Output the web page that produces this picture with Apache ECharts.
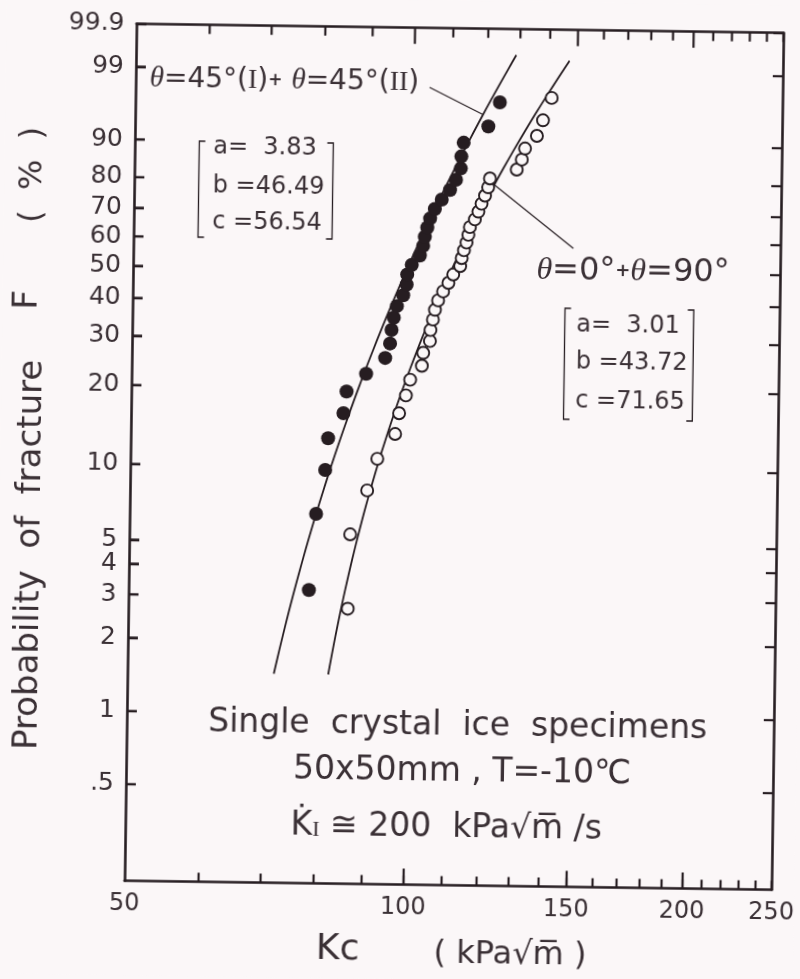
<!DOCTYPE html>
<html>
<head>
<meta charset="utf-8">
<script src="https://cdn.jsdelivr.net/npm/echarts@6/dist/echarts.min.js"></script>
<style>
  html, body { margin: 0; padding: 0; background: #fbf7f8; overflow: hidden; }
  #chart { width: 800px; height: 979px; transform: rotate(0.8deg); transform-origin: 50% 50%; }
</style>
</head>
<body>
<div id="chart"></div>
<script>
// Fracture toughness Kc of single-crystal ice on Weibull probability paper
// (log Kc horizontally, ln(-ln(1-F)) vertically).

// Axis ticks and labels
const kcRange = [50, 250];
const kcLabelValues = [50, 100, 150, 200, 250];
const kcMinorTicks = [60, 70, 80, 90, 100, 110, 120, 130, 140, 150, 160, 170, 180, 190, 200, 210, 220, 230, 240, 250];
const kcMajorTicks = [100, 150, 200];
const probRange = [0.2, 99.9];
const probTicks = [99.9, 99, 90, 80, 70, 60, 50, 40, 30, 20, 10, 5, 4, 3, 2, 1, 0.5];
const probTickLabels = ['99.9', '99', '90', '80', '70', '60', '50', '40', '30', '20', '10', '5', '4', '3', '2', '1', '.5'];

// θ=45°(I) + θ=45°(II) specimens: Kc (kPa√m) and probability of fracture (%)
const kcInclined = [78.3, 79.5, 81.2, 81.7, 84.8, 85.4, 89.6, 93.9, 95.0, 95.3,
                    95.8, 96.5, 98.0, 98.8, 98.9, 100.0, 102.0, 102.8, 103.2, 103.8,
                    104.5, 105.7, 107.5, 109.7, 111.3, 112.6, 112.7, 113.3, 120.4, 123.8];
const probInclined = [3.2, 6.5, 9.7, 12.9, 16.1, 19.4, 22.6, 25.8, 29.0, 32.3,
                      35.5, 38.7, 41.9, 45.2, 48.4, 51.6, 54.8, 58.1, 61.3, 64.5,
                      67.7, 71.0, 74.2, 77.4, 80.6, 83.9, 87.1, 90.3, 93.5, 96.8];

// θ=0° + θ=90° specimens
const kcAxial = [86.3, 86.6, 90.2, 92.4, 96.5, 97.4, 99.0, 100.0, 102.9, 103.2,
                 104.9, 105.0, 105.6, 106.1, 106.9, 108.2, 109.6, 110.9, 112.8, 113.2,
                 113.8, 114.5, 115.0, 115.4, 116.8, 117.8, 118.7, 119.7, 120.6, 121.1,
                 129.4, 131.0, 132.0, 135.9, 137.9, 140.8];
const probAxial = [2.7, 5.4, 8.1, 10.8, 13.5, 16.2, 18.9, 21.6, 24.3, 27.0,
                   29.7, 32.4, 35.1, 37.8, 40.5, 43.2, 45.9, 48.6, 51.4, 54.1,
                   56.8, 59.5, 62.2, 64.9, 67.6, 70.3, 73.0, 75.7, 78.4, 81.1,
                   83.8, 86.5, 89.2, 91.9, 94.6, 97.3];

// Three-parameter Weibull fits [a, b, c]: F = 1 - exp(-((Kc - c) / b)^a)
const weibullInclined = [3.83, 46.49, 56.54];
const weibullAxial = [3.01, 43.72, 71.65];
// probability span (%) over which each fitted line is drawn
const fitSpanInclined = [1.45, 99.55];
const fitSpanAxial = [1.45, 99.42];

const ink = '#261d21';
const textInk = '#3a3035';
const paper = '#fbf7f8';
const sans = '"DejaVu Sans", sans-serif';
const serif = '"Liberation Serif", "DejaVu Serif", serif';

// Weibull probability-paper ordinate
const wb = p => Math.log(-Math.log(1 - p / 100));
const lg = v => Math.log10(v);

function fitLine(params, span) {
  const [a, b, c] = params;
  const w0 = wb(span[0]), w1 = wb(span[1]);
  const pts = [];
  const n = 80;
  for (let k = 0; k <= n; k++) {
    const w = w0 + (w1 - w0) * k / n;
    pts.push([c + b * Math.exp(w / a), w]);
  }
  return pts;
}
function fitPoint(params, p) {
  const [a, b, c] = params;
  const w = wb(p);
  return [c + b * Math.exp(w / a), w];
}

const probTickW = probTicks.map(wb);
function probLabel(v) {
  let best = 0;
  for (let i = 1; i < probTickW.length; i++) {
    if (Math.abs(probTickW[i] - v) < Math.abs(probTickW[best] - v)) best = i;
  }
  return probTickLabels[best];
}

function axisLine(show) {
  return { show: show, onZero: false, lineStyle: { color: ink, width: 2.6 } };
}

function kcTickAxis(position, ticks, len, withLabels, withLine, withTicks) {
  return {
    type: 'value', position: position, gridIndex: 0, offset: 0,
    min: lg(kcRange[0]), max: lg(kcRange[1]),
    axisLine: axisLine(withLine),
    splitLine: { show: false },
    axisTick: { show: withTicks, inside: true, length: len, customValues: ticks.map(lg),
                lineStyle: { color: ink, width: 2.2 } },
    axisLabel: withLabels ? {
      show: true, customValues: kcLabelValues.map(lg), margin: 11,
      formatter: v => String(Math.round(Math.pow(10, v))),
      color: textInk, fontSize: 24, fontFamily: sans
    } : { show: false }
  };
}

function probAxis(position, withLabels) {
  return {
    type: 'value', position: position, gridIndex: 0, offset: 0,
    min: wb(probRange[0]), max: wb(probRange[1]),
    axisLine: axisLine(true),
    splitLine: { show: false },
    axisTick: { show: true, inside: true, length: 10, customValues: probTickW,
                lineStyle: { color: ink, width: 2.2 } },
    axisLabel: withLabels ? {
      show: true, customValues: probTickW, margin: 12, formatter: probLabel,
      color: textInk, fontSize: 25, fontFamily: sans
    } : { show: false }
  };
}

// inward tick marks along the upper and left edges of the frame
function topTick(params, api) {
  const v = api.value(0);
  const p = api.coord([v, api.value(1)]);
  const len = kcMajorTicks.indexOf(v) >= 0 ? 16 : 9;
  return { type: 'line', shape: { x1: p[0], y1: p[1], x2: p[0], y2: p[1] + len },
           style: { stroke: ink, lineWidth: 2.2 } };
}
function leftTick(params, api) {
  const p = api.coord([api.value(0), api.value(1)]);
  return { type: 'line', shape: { x1: p[0], y1: p[1], x2: p[0] + 10, y2: p[1] },
           style: { stroke: ink, lineWidth: 2.2 } };
}

const chart = echarts.init(document.getElementById('chart'));

chart.setOption({
  animation: false,
  backgroundColor: paper,
  grid: { left: 130, right: 23, top: 27.7, bottom: 94.5, outerBoundsMode: 'none' },
  xAxis: [
    { type: 'log', position: 'bottom', gridIndex: 0, min: kcRange[0], max: kcRange[1],
      axisLine: axisLine(true), axisTick: { show: false }, axisLabel: { show: false },
      splitLine: { show: false } },
    kcTickAxis('bottom', kcMinorTicks, 9, true, false, true),
    kcTickAxis('bottom', kcMajorTicks, 16, false, false, true),
    kcTickAxis('top', kcMinorTicks, 9, false, true, false)
  ],
  yAxis: [probAxis('left', true), probAxis('right', false)],
  series: [
    { type: 'line', name: 'fit θ=45°', xAxisIndex: 0, yAxisIndex: 0,
      data: fitLine(weibullInclined, fitSpanInclined), showSymbol: false, symbol: 'none',
      lineStyle: { color: ink, width: 1.8 }, z: 3, silent: true },
    { type: 'line', name: 'fit θ=0°,90°', xAxisIndex: 0, yAxisIndex: 0,
      data: fitLine(weibullAxial, fitSpanAxial), showSymbol: false, symbol: 'none',
      lineStyle: { color: ink, width: 1.8 }, z: 3, silent: true },
    { type: 'scatter', name: 'θ=45°(I)+θ=45°(II)', xAxisIndex: 0, yAxisIndex: 0,
      data: kcInclined.map((k, i) => [k, wb(probInclined[i])]),
      symbol: 'circle', symbolSize: 14, itemStyle: { color: ink, opacity: 1 }, z: 5, silent: true },
    { type: 'scatter', name: 'θ=0°+θ=90°', xAxisIndex: 0, yAxisIndex: 0,
      data: kcAxial.map((k, i) => [k, wb(probAxial[i])]),
      symbol: 'circle', symbolSize: 12,
      itemStyle: { color: paper, borderColor: ink, borderWidth: 1.9, opacity: 1 }, z: 5, silent: true },
    { type: 'custom', name: 'top ticks', xAxisIndex: 0, yAxisIndex: 0, clip: false, silent: true, z: 10,
      data: kcMinorTicks.map(v => [v, wb(probRange[1])]), renderItem: topTick },
    { type: 'custom', name: 'left ticks', xAxisIndex: 0, yAxisIndex: 0, clip: false, silent: true, z: 10,
      data: probTicks.map(p => [kcRange[0], wb(p)]), renderItem: leftTick }
  ]
});

// annotations
function txt(x, y, text, size, opts) {
  opts = opts || {};
  return {
    type: 'text', x: x, y: y, rotation: opts.rotation || 0, z: 20,
    style: Object.assign({
      text: text, font: size + 'px ' + (opts.family || sans), fill: textInk,
      align: opts.align || 'center', verticalAlign: 'middle',
      textAlign: opts.align || 'center', textVerticalAlign: 'middle'
    }, opts.rich ? { rich: opts.rich } : {})
  };
}
function bracket(x, top, bottom, dir) {
  const arm = 6 * dir;
  return {
    type: 'polyline', z: 20,
    shape: { points: [[x + arm, top], [x, top], [x, bottom], [x + arm, bottom]] },
    style: { stroke: ink, lineWidth: 1.3, fill: null }
  };
}
function leader(p1, p2) {
  return {
    type: 'line', z: 20,
    shape: { x1: p1[0], y1: p1[1], x2: p2[0], y2: p2[1] },
    style: { stroke: ink, lineWidth: 1.2 }
  };
}

const labelRich = {
  t: { font: 'italic 29px ' + serif, fill: textInk },
  r: { font: '28px ' + serif, fill: textInk },
  p: { font: 'bold 17px ' + sans, fill: textInk }
};
const labelRich2 = {
  t: { font: 'italic 32px ' + serif, fill: textInk },
  p: { font: 'bold 18px ' + sans, fill: textInk }
};
const kiRich = {
  k: { font: '33px ' + sans, fill: textInk },
  s: { font: '22px ' + serif, fill: textInk, padding: [8, 0, 0, 0] }
};

const leaderInclined = chart.convertToPixel({ xAxisIndex: 0, yAxisIndex: 0 }, fitPoint(weibullInclined, 95.3));
const leaderAxial = chart.convertToPixel({ xAxisIndex: 0, yAxisIndex: 0 }, fitPoint(weibullAxial, 79.2));

chart.setOption({
  graphic: [
    txt(144, 82.5, '{t|θ}=45°({r|I}){p|+} {t|θ}=45°({r|II})', 28, { align: 'left', rich: labelRich }),
    leader([424, 87], leaderInclined),
    bracket(194.5, 144, 240, 1),
    bracket(328.5, 144, 240, -1),
    txt(208.5, 149.8, 'a=  3.83', 24, { align: 'left' }),
    txt(208.5, 188.8, 'b =46.49', 24, { align: 'left' }),
    txt(208.5, 224.8, 'c =56.54', 24, { align: 'left' }),

    txt(630, 268.8, '{t|θ}=0°{p|+}{t|θ}=90°', 32, { rich: labelRich2 }),
    leader(leaderAxial, [570, 246]),
    bracket(562.5, 306, 417, 1),
    bracket(691.3, 306, 417, -1),
    txt(574, 322.8, 'a=  3.01', 24, { align: 'left' }),
    txt(574, 359.8, 'b =43.72', 24, { align: 'left' }),
    txt(574, 398.8, 'c =71.65', 24, { align: 'left' }),

    txt(461, 725, 'Single  crystal  ice  specimens', 33),
    txt(466, 771, '50x50mm , T=-10℃', 33),
    txt(451, 827, '{k|K\u0307}{s|I} ≅ 200  kPa√m\u0305 /s', 33, { rich: kiRich }),

    txt(31, 560, 'Probability  of  fracture', 34, { rotation: Math.PI / 2 }),
    txt(25.3, 305, 'F', 34, { rotation: Math.PI / 2 }),
    txt(28.7, 180, '(  %  )', 32, { rotation: Math.PI / 2 }),

    txt(344, 951, 'Kc', 36),
    txt(516.5, 953.5, '( kPa√m\u0305 )', 32)
  ]
});
</script>
</body>
</html>
